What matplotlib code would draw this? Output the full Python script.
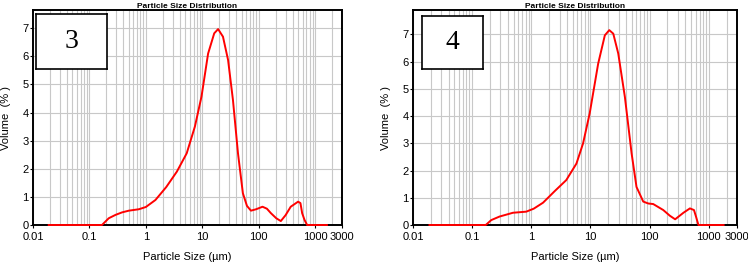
import numpy as np
import matplotlib
matplotlib.use('Agg')
import matplotlib.pyplot as plt
from matplotlib.ticker import FixedLocator, NullFormatter, LogLocator

plt.rcParams['font.family'] = ['Liberation Sans Narrow', 'Liberation Sans', 'DejaVu Sans']

# sample 3
size3 = [0.019, 0.167, 0.22, 0.29, 0.38, 0.5, 0.75, 1.0, 1.48, 2.3, 3.55, 5.3, 7.4,
         9.7, 12.7, 16.3, 19.1, 23.3, 28.7, 35.0, 43.0, 52.5, 62.0, 73.0, 90.0,
         117.0, 140.0, 165.0, 205.0, 247.0, 300.0, 370.0, 500.0, 550.0, 590.0,
         650.0, 723.0, 1620.0]
vol3 = [0.0, 0.0, 0.24, 0.36, 0.45, 0.51, 0.56, 0.64, 0.89, 1.35, 1.9, 2.55, 3.5,
        4.57, 6.1, 6.82, 6.97, 6.7, 5.87, 4.45, 2.55, 1.13, 0.68, 0.51, 0.56,
        0.65, 0.58, 0.42, 0.24, 0.14, 0.35, 0.65, 0.83, 0.78, 0.42,
        0.18, 0.0, 0.0]

# sample 4
size4 = [0.019, 0.17, 0.21, 0.29, 0.49, 0.82, 1.1, 1.58, 2.5, 3.9, 5.8, 7.5,
         9.7, 13.5, 17.5, 20.8, 24.3, 29.5, 38.2, 49.6, 60.0, 78.0, 95.0, 115.0,
         170.0, 220.0, 270.0, 373.0, 480.0, 562.0, 610.0, 668.0, 1780.0]
vol4 = [0.0, 0.0, 0.18, 0.31, 0.45, 0.49, 0.6, 0.82, 1.25, 1.65, 2.26, 3.0,
        4.1, 5.93, 6.97, 7.16, 7.03, 6.3, 4.7, 2.63, 1.4, 0.86, 0.79, 0.77,
        0.55, 0.34, 0.21, 0.45, 0.61, 0.55, 0.3, 0.0, 0.0]

xticks = [0.01, 0.1, 1, 10, 100, 1000, 3000]
xticklabels = ['0.01', '0.1', '1', '10', '100', '1000', '3000']
yticks = [0, 1, 2, 3, 4, 5, 6, 7]

fig = plt.figure(figsize=(7.48, 2.65), dpi=100)
W, H = 748.0, 265.0

panels = [
    ('3', size3, vol3, [33 / W, 40 / H, 309 / W, 215 / H], 7.65, [3 / 309.0, 0.725, 71 / 309.0, 55 / 215.0]),
    ('4', size4, vol4, [413 / W, 40 / H, 324 / W, 215 / H], 7.9, [9 / 324.0, 0.726, 61 / 324.0, 53 / 215.0]),
]

for name, xs, ys, pos, ytop, box in panels:
    ax = fig.add_axes(pos)
    ax.set_xscale('log')
    ax.set_xlim(0.01, 3000)
    ax.set_ylim(0, ytop)
    ax.xaxis.set_major_locator(FixedLocator(xticks))
    ax.set_xticklabels(xticklabels)
    ax.xaxis.set_minor_locator(LogLocator(base=10, subs=np.arange(2, 10), numticks=20))
    ax.xaxis.set_minor_formatter(NullFormatter())
    ax.set_yticks(yticks)
    ax.grid(True, which='both', axis='x', color='#c8c8c8', linewidth=0.8)
    ax.grid(True, which='major', axis='y', color='#c8c8c8', linewidth=0.8)
    ax.set_axisbelow(True)
    ax.tick_params(axis='both', which='both', length=2, labelsize=8, pad=1)
    ax.tick_params(axis='x', which='major', pad=3)
    ax.tick_params(axis='x', which='minor', length=0)
    for sp in ax.spines.values():
        sp.set_linewidth(1.4)
    ax.plot(xs, ys, color='#ff0000', linewidth=1.4, clip_on=False, zorder=3)
    ax.set_title('Particle Size Distribution', fontsize=6, pad=1, fontweight='bold')
    ax.set_xlabel('Particle Size (µm)', fontsize=8, labelpad=7)
    ax.set_ylabel('Volume  (% )', fontsize=8, family=['Liberation Sans', 'DejaVu Sans'], labelpad=8)

    inset = ax.inset_axes(box)
    inset.set_xticks([])
    inset.set_yticks([])
    inset.set_facecolor('white')
    for sp in inset.spines.values():
        sp.set_linewidth(1.2)
    inset.text(0.5, 0.5, name, ha='center', va='center', fontsize=20,
               family=['Liberation Serif', 'DejaVu Serif'], transform=inset.transAxes)

plt.savefig('out.png', dpi=100)
